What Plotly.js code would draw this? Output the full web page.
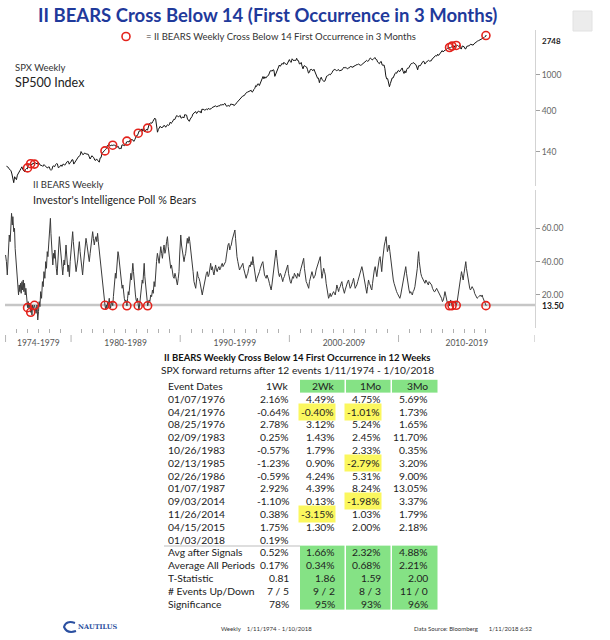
<!DOCTYPE html>
<html><head><meta charset="utf-8">
<script src="https://cdn.plot.ly/plotly-3.0.1.min.js"></script>
<style>html,body{margin:0;padding:0;background:#fff;}#chart{width:610px;height:640px;}</style>
</head><body><div id="chart"></div>
<script>
// ---------------- DATA ----------------
const chartTitle = 'II BEARS Cross Below 14 (First Occurrence in 3 Months)';
const legendText = '= II BEARS Weekly Cross Below 14 First Occurrence in 3 Months';

// SPX monthly closes, Jan 1974 .. Dec 2017
const spxStartYear = 1974;
const spxMonthly = [
96.6,96.2,93.98,90.31,87.28,86.00,79.31,72.15,63.54,73.90,69.97,68.56,
76.98,81.59,83.36,87.30,91.15,95.19,88.75,86.88,83.87,89.04,91.24,90.19,
100.86,99.71,102.77,101.64,100.18,104.28,103.44,102.91,105.24,102.90,102.10,107.46,
102.03,99.82,98.42,98.44,96.12,100.48,98.85,96.77,96.53,92.34,94.83,95.10,
89.25,87.04,89.21,96.83,97.24,95.53,100.68,103.29,102.54,93.15,94.70,96.11,
99.93,96.28,101.59,101.76,99.08,102.91,103.81,109.32,109.32,101.82,106.16,107.94,
114.16,113.66,102.09,106.29,111.24,114.24,121.67,122.38,125.46,127.47,140.52,135.76,
129.55,131.27,136.00,132.81,132.59,131.21,130.92,122.79,116.18,121.89,126.35,122.55,
120.40,113.11,111.96,116.44,111.88,109.61,107.09,119.51,120.42,133.71,138.54,140.64,
145.30,148.06,152.96,164.42,162.39,168.11,162.56,164.40,166.07,163.55,166.40,164.93,
163.41,157.06,159.18,160.05,150.55,153.18,150.66,166.68,166.10,166.09,163.58,167.24,
179.63,181.18,180.66,179.83,189.55,191.85,190.92,188.63,182.08,189.82,202.17,211.28,
211.78,226.92,238.90,235.52,247.35,250.84,236.12,252.93,231.32,243.98,249.22,242.17,
274.08,284.20,291.70,288.36,290.10,304.00,318.66,329.80,321.83,251.79,230.30,247.08,
257.07,267.82,258.89,261.33,262.16,273.50,272.02,261.52,271.91,278.97,273.70,277.72,
297.47,288.86,294.87,309.64,320.52,317.98,346.08,351.45,349.15,340.36,345.99,353.40,
329.08,331.89,339.94,330.80,361.23,358.02,356.15,322.56,306.05,304.00,322.22,330.22,
343.93,367.07,375.22,375.35,389.83,371.16,387.81,395.43,387.86,392.46,375.22,417.09,
408.79,412.70,403.69,414.95,415.35,408.14,424.21,414.03,417.80,418.68,431.35,435.71,
438.78,443.38,451.67,440.19,450.19,450.53,448.13,463.56,458.93,467.83,461.79,466.45,
481.61,467.14,445.77,450.91,456.50,444.27,458.26,475.49,462.69,472.35,453.69,459.27,
470.42,487.39,500.71,514.71,533.40,544.75,562.06,561.88,584.41,581.50,605.37,615.93,
636.02,640.43,645.50,654.17,669.12,670.63,639.95,651.99,687.31,705.27,757.02,740.74,
786.16,790.82,757.12,801.34,848.28,885.14,954.29,899.47,947.28,914.62,955.40,970.43,
980.28,1049.34,1101.75,1111.75,1090.82,1133.84,1120.67,957.28,1017.01,1098.67,1163.63,1229.23,
1279.64,1238.33,1286.37,1335.18,1301.84,1372.71,1328.72,1320.41,1282.71,1362.93,1388.91,1469.25,
1394.46,1366.42,1498.58,1452.43,1420.60,1454.60,1430.83,1517.68,1436.51,1429.40,1314.95,1320.28,
1366.01,1239.94,1160.33,1249.46,1255.82,1224.42,1211.23,1133.58,1040.94,1059.78,1139.45,1148.08,
1130.20,1106.73,1147.39,1076.92,1067.14,989.82,911.62,916.07,815.28,885.76,936.31,879.82,
855.70,841.15,848.18,916.92,963.59,974.50,990.31,1008.01,995.97,1050.71,1058.20,1111.92,
1131.13,1144.94,1126.21,1107.30,1120.68,1140.84,1101.72,1104.24,1114.58,1130.20,1173.82,1211.92,
1181.27,1203.60,1180.59,1156.85,1191.50,1191.33,1234.18,1220.33,1228.81,1207.01,1249.48,1248.29,
1280.08,1280.66,1294.87,1310.61,1270.09,1270.20,1276.66,1303.82,1335.85,1377.94,1400.63,1418.30,
1438.24,1406.82,1420.86,1482.37,1530.62,1503.35,1455.27,1473.99,1526.75,1549.38,1481.14,1468.36,
1378.55,1330.63,1322.70,1385.59,1400.38,1280.00,1267.38,1282.83,1166.36,968.75,896.24,903.25,
825.88,735.09,797.87,872.81,919.14,919.32,987.48,1020.62,1057.08,1036.19,1095.63,1115.10,
1073.87,1104.49,1169.43,1186.69,1089.41,1030.71,1101.60,1049.33,1141.20,1183.26,1180.55,1257.64,
1286.12,1327.22,1325.83,1363.61,1345.20,1320.64,1292.28,1218.89,1131.42,1253.30,1246.96,1257.60,
1312.41,1365.68,1408.47,1397.91,1310.33,1362.16,1379.32,1406.58,1440.67,1412.16,1416.18,1426.19,
1498.11,1514.68,1569.19,1597.57,1630.74,1606.28,1685.73,1632.97,1681.55,1756.54,1805.81,1848.36,
1782.59,1859.45,1872.34,1883.95,1923.57,1960.23,1930.67,2003.37,1972.29,2018.05,2067.56,2058.90,
1994.99,2104.50,2067.89,2085.51,2107.39,2063.11,2103.84,1972.18,1920.03,2079.36,2080.41,2043.94,
1940.24,1932.23,2059.74,2065.30,2096.95,2098.86,2173.60,2170.95,2168.27,2126.15,2198.81,2238.83,
2278.87,2363.64,2362.72,2384.20,2411.80,2423.41,2470.30,2471.65,2519.36,2575.26,2647.58,2673.61
];
const spxLastDate = '01/10/2018';
const spxLast = 2748;

// II Bears weekly (% bears)
const bearsYears = [
1974.00,1974.08,1974.16,1974.25,1974.34,1974.42,1974.50,1974.55,1974.62,1974.67,1974.75,1974.82,1974.88,1974.95,
1975.02,1975.07,1975.13,1975.19,1975.25,1975.31,1975.37,1975.43,1975.50,1975.56,1975.62,1975.68,1975.74,1975.80,1975.86,1975.93,1975.98,
1976.02,1976.08,1976.14,1976.20,1976.25,1976.30,1976.36,1976.42,1976.48,1976.55,1976.60,1976.65,1976.72,1976.80,1976.88,1976.95,
1977.02,1977.08,1977.15,1977.22,1977.30,1977.38,1977.45,1977.52,1977.60,1977.68,1977.75,1977.82,1977.88,1977.95,
1978.02,1978.08,1978.11,1978.16,1978.22,1978.28,1978.33,1978.40,1978.46,1978.52,1978.58,1978.65,1978.72,1978.78,1978.85,1978.93,
1979.00,1979.06,1979.12,1979.18,1979.24,1979.30,1979.36,1979.42,1979.48,1979.54,1979.60,1979.66,1979.72,1979.78,1979.85,1979.92,
1980.00,1980.07,1980.15,1980.21,1980.27,1980.33,1980.40,1980.46,1980.53,1980.61,1980.68,1980.76,1980.83,1980.91,1980.98,
1981.06,1981.13,1981.22,1981.30,1981.37,1981.44,1981.52,1981.59,1981.67,1981.75,1981.83,1981.90,1981.98,
1982.05,1982.13,1982.20,1982.28,1982.36,1982.43,1982.50,1982.59,1982.66,1982.74,1982.81,1982.89,1982.95,
1983.02,1983.06,1983.11,1983.18,1983.24,1983.29,1983.36,1983.44,1983.50,1983.55,1983.62,1983.70,1983.76,1983.82,1983.88,1983.94,
1984.00,1984.06,1984.12,1984.18,1984.24,1984.30,1984.36,1984.42,1984.48,1984.55,1984.62,1984.68,1984.75,1984.81,1984.88,1984.95,
1985.02,1985.08,1985.12,1985.18,1985.24,1985.30,1985.36,1985.42,1985.48,1985.54,1985.60,1985.66,1985.72,1985.78,1985.84,1985.90,1985.96,
1986.02,1986.08,1986.16,1986.22,1986.28,1986.34,1986.40,1986.46,1986.52,1986.58,1986.64,1986.70,1986.76,1986.82,1986.88,1986.95,
1987.02,1987.08,1987.15,1987.22,1987.30,1987.38,1987.46,1987.53,1987.61,1987.68,1987.76,1987.83,1987.91,1987.98,
1988.07,1988.14,1988.22,1988.30,1988.37,1988.45,1988.52,1988.60,1988.67,1988.75,1988.83,1988.90,1988.98,
1989.06,1989.13,1989.20,1989.28,1989.36,1989.44,1989.52,1989.59,1989.66,1989.74,1989.82,1989.89,1989.95,
1990.00,1990.05,1990.12,1990.20,1990.28,1990.35,1990.42,1990.50,1990.58,1990.65,1990.72,1990.81,1990.88,1990.96,
1991.04,1991.11,1991.18,1991.26,1991.34,1991.42,1991.50,1991.57,1991.64,1991.72,1991.80,1991.87,1991.95,
1992.02,1992.10,1992.18,1992.25,1992.33,1992.40,1992.48,1992.56,1992.63,1992.70,1992.79,1992.86,1992.94,
1993.02,1993.09,1993.16,1993.24,1993.32,1993.39,1993.47,1993.55,1993.62,1993.70,1993.78,1993.85,1993.92,
1994.00,1994.08,1994.16,1994.24,1994.31,1994.38,1994.46,1994.54,1994.61,1994.68,1994.76,1994.84,1994.92,
1995.01,1995.07,1995.13,1995.20,1995.28,1995.36,1995.43,1995.51,1995.59,1995.66,1995.74,1995.81,1995.89,1995.96,
1996.04,1996.12,1996.19,1996.27,1996.35,1996.42,1996.50,1996.58,1996.65,1996.72,1996.80,1996.88,1996.96,
1997.04,1997.11,1997.18,1997.26,1997.34,1997.41,1997.49,1997.57,1997.64,1997.72,1997.80,1997.87,1997.95,
1998.02,1998.10,1998.17,1998.25,1998.33,1998.40,1998.48,1998.56,1998.63,1998.70,1998.78,1998.86,1998.93,
1999.01,1999.09,1999.16,1999.24,1999.32,1999.39,1999.46,1999.54,1999.62,1999.70,1999.78,1999.85,1999.92,
2000.00,2000.08,2000.15,2000.22,2000.30,2000.38,2000.46,2000.53,2000.61,2000.68,2000.76,2000.84,2000.91,2000.99,
2001.07,2001.14,2001.22,2001.31,2001.38,2001.46,2001.54,2001.61,2001.69,2001.77,2001.84,2001.92,2001.99,
2002.07,2002.14,2002.22,2002.30,2002.37,2002.45,2002.53,2002.60,2002.68,2002.75,2002.83,2002.90,2002.98,
2003.06,2003.14,2003.22,2003.29,2003.37,2003.44,2003.52,2003.59,2003.66,2003.74,2003.82,2003.90,2003.97,
2004.05,2004.12,2004.20,2004.28,2004.35,2004.43,2004.51,2004.58,2004.66,2004.74,2004.81,2004.88,2004.96,
2005.04,2005.11,2005.19,2005.27,2005.34,2005.42,2005.50,2005.57,2005.65,2005.72,2005.80,2005.88,2005.95,
2006.03,2006.10,2006.18,2006.26,2006.33,2006.41,2006.49,2006.56,2006.64,2006.71,2006.79,2006.86,2006.94,
2007.02,2007.09,2007.17,2007.25,2007.32,2007.40,2007.48,2007.55,2007.62,2007.70,2007.78,2007.86,2007.93,
2008.01,2008.08,2008.16,2008.24,2008.31,2008.38,2008.46,2008.54,2008.62,2008.70,2008.77,2008.83,2008.86,2008.92,2008.98,
2009.06,2009.13,2009.21,2009.29,2009.36,2009.44,2009.52,2009.59,2009.66,2009.74,2009.82,2009.89,2009.97,
2010.05,2010.12,2010.20,2010.28,2010.35,2010.42,2010.50,2010.58,2010.66,2010.73,2010.81,2010.88,2010.96,
2011.04,2011.11,2011.19,2011.26,2011.34,2011.42,2011.50,2011.57,2011.65,2011.72,2011.78,2011.84,2011.90,2011.96,
2012.04,2012.12,2012.20,2012.27,2012.35,2012.42,2012.50,2012.57,2012.65,2012.73,2012.80,2012.88,2012.96,
2013.03,2013.11,2013.18,2013.26,2013.33,2013.41,2013.49,2013.56,2013.64,2013.72,2013.79,2013.87,2013.94,
2014.02,2014.10,2014.17,2014.25,2014.32,2014.40,2014.48,2014.55,2014.62,2014.67,2014.72,2014.77,2014.83,2014.90,2014.96,
2015.02,2015.07,2015.13,2015.19,2015.24,2015.29,2015.35,2015.40,2015.46,2015.54,2015.62,2015.70,2015.77,2015.85,2015.92,
2016.00,2016.07,2016.12,2016.16,2016.22,2016.29,2016.36,2016.44,2016.52,2016.59,2016.66,2016.74,2016.82,2016.90,2016.97,
2017.05,2017.12,2017.20,2017.28,2017.35,2017.42,2017.50,2017.58,2017.66,2017.72,2017.78,2017.85,2017.92,2017.97,
2018.01,2018.03
];
const bearsVals = [
44,40,32,45,56,52,63,69,62,67,58,60,48,42,
33,28,24,20,26,22,27,21,28,23,29,22,27,20,24,17,15,
12.4,16,12,15,10,9.6,12,8,14,11,13,13.8,12,9,14,5,
10,16,13,22,18,28,25,34,30,40,36,46,43,52,
58,62,66,57,50,44,38,45,42,47,40,36,32,40,48,55,
50,46,40,36,32,37,41,38,46,50,44,36,34,38,31,40,
48,52,58,52,46,42,38,34,37,41,47,52,46,42,36,
32,38,46,50,54,51,48,44,40,45,50,54,58,
54,50,53,55,52,57,52,46,40,35,30,24,20,
17,16,13.8,11,14,12,16,15,18,14,12,16,15,13.6,19,24,
28,33,30,38,42,46,44,40,36,33,28,24,26,20,18,16,
17,15,13.5,18,22,20,26,30,33,29,35,39,34,28,24,20,17,
16,18,13.6,11,14,17,21,24,29,27,33,39,31,26,22,18,
13.5,15,17,16,20,19,23,21,28,25,36,40,45,41,
39,44,49,45,42,47,50,45,47,52,55,49,45,
41,36,38,34,31,30,33,31,28,26,30,34,44,
52,56,50,46,42,40,43,45,50,54,51,55,52,48,
44,40,34,28,26,24,29,34,31,30,28,26,22,
20,23,26,28,30,33,34,31,32,36,39,35,37,
34,32,35,38,35,34,36,37,35,36,38,39,37,
38,39,40,44,48,50,51,47,49,50,53,55,58,
59,54,46,43,40,37,35,36,37,38,39,36,34,31,
30,32,33,36,38,37,40,38,43,39,34,30,28,
30,31,33,34,36,38,39,40,36,32,31,30,32,
31,29,27,25,23,26,30,35,40,44,47,42,36,
33,31,33,32,30,28,30,31,33,35,36,38,33,
29,28,27,29,31,30,33,32,31,30,33,32,31,34,
36,38,40,42,36,30,28,27,25,24,28,31,33,
34,32,30,31,32,35,37,39,41,42,43,36,30,
33,36,34,32,27,23,20,18,19,21,19,20,21,
22,21,20,23,26,24,22,24,25,27,28,25,22,
21,23,25,26,28,29,26,24,25,26,28,30,27,
24,25,26,28,30,32,34,36,37,35,32,28,25,
23,21,25,29,27,26,24,23,27,32,35,37,34,
31,35,40,42,43,38,34,41,48,50,52,54,55,50,46,
48,50,46,42,36,31,29,27,25,24,22,21,20,
19,18,20,23,26,29,32,35,37,33,28,25,23,
21,22,21,20,22,23,25,28,32,36,42,46,40,35,
33,31,30,29,28,27,29,28,27,26,28,27,26,
26,24,23,22,22,23,24,23,22,21,20,19,18,
16,17,19,22,20,16,15,16,15,13.5,16,17,16,13.6,15,
16,16.4,16,15,16,13.8,15,17,20,22,25,31,34,31,29,
33,37,39,40,36,33,29,26,24,23,24,25,24,23,21,
20,19,18,18.5,19,19.5,20,19,20,18.5,17.6,16,15,15,
13.6,13.5
];
const bearsThreshold = 14;
const bearsLast = 13.50;

// Signal events (first weekly cross below 14 in 12 weeks)
const eventDates = ['01/07/1976','04/21/1976','08/25/1976','02/09/1983','10/26/1983','02/13/1985',
                    '02/26/1986','01/07/1987','09/03/2014','11/26/2014','04/15/2015','01/03/2018'];
const eventSpx   = [92.6,103.0,102.0,142.9,165.3,183.4,224.4,255.3,2000.7,2072.8,2106.6,2713.1];
const eventBears = [12.4,9.6,13.8,13.8,13.6,13.5,13.6,13.5,13.5,13.6,13.8,13.6];

// Forward returns table (%)
const ret1Wk = [2.16,-0.64,2.78,0.25,-0.57,-1.23,-0.59,2.92,-1.10,0.38,1.75,0.19];
const ret2Wk = [4.49,-0.40,3.12,1.43,1.79,0.90,4.24,4.39,0.13,-3.15,1.30,null];
const ret1Mo = [4.75,-1.01,5.24,2.45,2.33,-2.79,5.31,8.24,-1.98,1.03,2.00,null];
const ret3Mo = [5.69,1.73,1.65,11.70,0.35,3.20,9.00,13.05,3.37,1.79,2.18,null];

const tableHeader   = ['Event Dates','1Wk','2Wk','1Mo','3Mo'];
const summaryLabels = ['Avg after Signals','Average All Periods','T-Statistic','# Events Up/Down','Significance'];
const avgAfter      = [0.52,1.66,2.32,4.88];
const avgAll        = [0.17,0.34,0.68,2.21];
const tStat         = [0.81,1.86,1.59,2.00];
const upDown        = ['7 / 5','9 / 2','8 / 3','11 / 0'];
const significance  = [78,95,93,96];
const tableTitle    = 'II BEARS Weekly Cross Below 14 First Occurrence in 12 Weeks';
const tableSubtitle = 'SPX forward returns after 12 events 1/11/1974 - 1/10/2018';

// Axis ticks
const spxTicks     = [140,400,1000];
const bearsTicks   = [20,40,60];
const decadeBreaks = [1974,1980,1990,2000,2010];
const decadeLabels = ['1974-1979','1980-1989','1990-1999','2000-2009','2010-2019'];
const yearTicks    = [1975,1976,1977,1978,1979,1981,1982,1983,1984,1985,1986,1987,1988,1989,1991,1992,1993,1994,1995,1996,1997,1998,1999,2001,2002,2003,2004,2005,2006,2007,2008,2009,2011,2012,2013,2014,2015,2016,2017,2018];
const axisStart = 1973.95, axisEnd = 2022.5;

// Texts
const spxLabelSmall  = 'SPX Weekly';
const spxLabelBig    = 'SP500 Index';
const bearLabelSmall = 'II BEARS Weekly';
const bearLabelBig   = "Investor's Intelligence Poll % Bears";
const footerMid   = 'Weekly&nbsp;&nbsp;&nbsp;&nbsp;1/11/1974 - 1/10/2018';
const footerRight = 'Data Source: Bloomberg&nbsp;&nbsp;&nbsp;&nbsp;&nbsp;&nbsp;&nbsp;1/11/2018 6:52';

// ---------------- BUILD ----------------
const W = 610, H = 640;
const px = v => v / W;
const py = v => 1 - v / H;
const FONT = 'Lato, "Open Sans", sans-serif';
const GREEN = '#85e285', YELLOW = '#fbf75e';

function toYear(mdy) {
  const [m, d, y] = mdy.split('/').map(Number);
  const t0 = Date.UTC(y, 0, 1), t1 = Date.UTC(y + 1, 0, 1);
  return y + (Date.UTC(y, m - 1, d) - t0) / (t1 - t0);
}
const spxX = spxMonthly.map((v, i) => spxStartYear + (i + 1) / 12).concat([toYear(spxLastDate)]);
const spxY = spxMonthly.concat([spxLast]);
const eventX = eventDates.map(toYear);

// ---- table model (rows: header, events, summary) ----
const pct = v => (v === null || v === undefined) ? '' : v.toFixed(2) + '%';
const retCols = [ret1Wk, ret2Wk, ret1Mo, ret3Mo];
const colText = [[tableHeader[0]].concat(eventDates, summaryLabels)];
retCols.forEach((col, j) => {
  colText.push([tableHeader[j + 1]].concat(col.map(pct),
    [pct(avgAfter[j]), pct(avgAll[j]), tStat[j].toFixed(2), upDown[j], significance[j] + '%']));
});
const nRows = 1 + eventDates.length + summaryLabels.length;
const nEvents = eventDates.length;
const colEdges = [0, 81, 141, 187, 233, 280];   // table column geometry (px)
const rowEdges = Array.from({ length: nRows + 1 }, (_, i) => i - 0.5);
const zFill = Array.from({ length: nRows }, (_, r) =>
  Array.from({ length: 5 }, (_, c) => ((r === 0 || r > nEvents) && c >= 2) ? 1 : 0));

const traces = [
  { x: spxX, y: spxY, xaxis: 'x', yaxis: 'y', type: 'scatter', mode: 'lines',
    line: { color: '#151515', width: 1 }, hoverinfo: 'skip', showlegend: false },
  { x: eventX, y: eventSpx, xaxis: 'x', yaxis: 'y', type: 'scatter', mode: 'markers',
    name: legendText, showlegend: true,
    marker: { symbol: 'circle-open', size: 8, line: { color: '#e3231c', width: 1.6 }, color: '#e3231c' } },
  { x: bearsYears, y: bearsVals, xaxis: 'x', yaxis: 'y2', type: 'scatter', mode: 'lines',
    line: { color: '#3a3a3a', width: 1 }, hoverinfo: 'skip', showlegend: false },
  { x: eventX, y: eventBears, xaxis: 'x', yaxis: 'y2', type: 'scatter', mode: 'markers', showlegend: false,
    marker: { symbol: 'circle-open', size: 8, line: { color: '#e3231c', width: 1.6 }, color: '#e3231c' } },
  { type: 'heatmap', xaxis: 'x3', yaxis: 'y3', x: colEdges, y: rowEdges, z: zFill,
    zmin: 0, zmax: 1, colorscale: [[0, 'rgba(255,255,255,0)'], [1, GREEN]], showscale: false,
    xgap: 1.5, ygap: 0, hoverinfo: 'skip' }
];

const decadeCenters = decadeBreaks.map((b, i) => (b + (i + 1 < decadeBreaks.length ? decadeBreaks[i + 1] : axisEnd)) / 2);

const shapes = [
  { type: 'line', xref: 'x domain', yref: 'y2', x0: 0, x1: 1, y0: bearsThreshold, y1: bearsThreshold,
    line: { color: '#c6c6c6', width: 2.5 }, layer: 'below' },
  { type: 'line', xref: 'x3', yref: 'y3', x0: colEdges[0] + 5, x1: colEdges[2], y0: nEvents + 0.5, y1: nEvents + 0.5,
    line: { color: '#bdbdbd', width: 1 } },
  { type: 'rect', xref: 'paper', yref: 'paper', x0: px(573), x1: px(592), y0: py(31), y1: py(11),
    fillcolor: '#ececec', line: { color: '#e2e2e2', width: 1 } },
  { type: 'path', xref: 'paper', yref: 'paper',
    path: `M ${px(75)} ${py(623)} Q ${px(66)} ${py(620)} ${px(64)} ${py(627)} Q ${px(67)} ${py(634)} ${px(76)} ${py(631)}`,
    line: { color: '#2a4fa0', width: 2 } }
];
decadeBreaks.concat([axisEnd]).forEach(b => shapes.push({
  type: 'line', xref: 'x', yref: 'paper', x0: b, x1: b, y0: py(335), y1: py(342),
  line: { color: '#b5b5b5', width: 1 } }));

const ann = (text, x, y, size, color, opts = {}) => Object.assign({
  text, xref: 'paper', yref: 'paper', x: px(x), y: py(y), showarrow: false,
  xanchor: 'left', yanchor: 'middle', font: { family: FONT, size, color } }, opts);

const annotations = [
  ann('<b>' + chartTitle + '</b>', 267, 15, 18.5, '#1f3a9b', { xanchor: 'center' }),
  ann(spxLabelSmall, 13, 67, 9.5, '#333'),
  ann(spxLabelBig, 13, 83, 12.5, '#222'),
  ann(bearLabelSmall, 31, 184, 9.5, '#333'),
  ann(bearLabelBig, 31, 199, 10.8, '#222'),
  { text: '<b>' + spxLast + '</b>', xref: 'paper', yref: 'y', x: px(540), y: Math.log10(spxLast), yshift: -6,
    showarrow: false, xanchor: 'left', yanchor: 'middle', font: { family: FONT, size: 8, color: '#222' } },
  { text: '<b>' + bearsLast.toFixed(2) + '</b>', xref: 'paper', yref: 'y2', x: px(540), y: bearsLast,
    showarrow: false, xanchor: 'left', yanchor: 'middle', font: { family: FONT, size: 8.5, color: '#222' } },
  ann('<b>' + tableTitle + '</b>', 297, 357, 9.5, '#111', { xanchor: 'center' }),
  ann(tableSubtitle, 297, 370, 10.2, '#222', { xanchor: 'center' }),
  ann('<b>NAUTILUS</b>', 76, 627, 6.5, '#2a4fa0', { font: { family: 'DejaVu Serif, serif', size: 6.5, color: '#2a4fa0' } }),
  ann(footerMid, 219, 628, 6, '#333'),
  ann(footerRight, 412, 628, 6, '#333')
];

// table cell texts, placed on the table's own axes
colText.forEach((col, c) => {
  col.forEach((txt, r) => {
    if (!txt) return;
    const isEventRow = r >= 1 && r <= nEvents;
    const val = c >= 1 && isEventRow ? retCols[c - 1][r - 1] : null;
    const hi = c >= 2 && val !== null && val < 0;
    annotations.push({
      text: txt, xref: 'x3', yref: 'y3',
      x: c === 0 ? colEdges[0] + 8 : colEdges[c + 1] - 10, y: r,
      xanchor: c === 0 ? 'left' : 'right', yanchor: 'middle', showarrow: false,
      bgcolor: hi ? YELLOW : 'rgba(0,0,0,0)', borderpad: hi ? 2 : 0,
      font: { family: FONT, size: 10.3, color: '#222' }
    });
  });
});

const axisCommon = { showgrid: false, zeroline: false, showline: true, linecolor: '#d3d3d3', linewidth: 1,
  ticks: 'outside', ticklen: 4, tickcolor: '#a0a0a0', side: 'right', anchor: 'x',
  tickfont: { family: FONT, size: 8.5, color: '#666' } };

const layout = {
  width: W, height: H, margin: { l: 0, r: 0, t: 0, b: 0 },
  paper_bgcolor: 'white', plot_bgcolor: 'rgba(0,0,0,0)',
  font: { family: FONT },
  showlegend: true,
  legend: { x: px(106), y: py(22), xanchor: 'left', yanchor: 'top', bgcolor: 'rgba(0,0,0,0)',
    font: { family: FONT, size: 9.5, color: '#333' }, itemwidth: 30, tracegroupgap: 0 },
  xaxis: { domain: [px(5), px(535)], range: [axisStart, axisEnd], anchor: 'y2',
    showgrid: false, zeroline: false, showline: false,
    tickmode: 'array', tickvals: decadeCenters, ticktext: decadeLabels, ticks: '',
    ticklabelstandoff: 8, tickfont: { family: FONT, size: 8.5, color: '#555' },
    minor: { tickmode: 'array', tickvals: yearTicks, ticks: 'outside', ticklen: 4, tickcolor: '#b0b0b0', tickwidth: 1, showgrid: false } },
  yaxis: Object.assign({}, axisCommon, { domain: [py(186), py(30)], type: 'log', range: [1.766, 3.495],
    tickmode: 'array', tickvals: spxTicks, ticktext: spxTicks.map(String) }),
  yaxis2: Object.assign({}, axisCommon, { domain: [py(328.3), py(190)], range: [0, 83],
    tickmode: 'array', tickvals: bearsTicks, tickformat: '.2f' }),
  xaxis3: { domain: [px(159), px(439)], range: [colEdges[0], colEdges[colEdges.length - 1]], anchor: 'y3',
    visible: false, fixedrange: true },
  yaxis3: { domain: [py(610), py(379.6)], range: [nRows - 0.5, -0.5], anchor: 'x3',
    visible: false, fixedrange: true },
  shapes, annotations
};

Plotly.newPlot('chart', traces, layout, { displayModeBar: false, staticPlot: true });
</script>
</body></html>
